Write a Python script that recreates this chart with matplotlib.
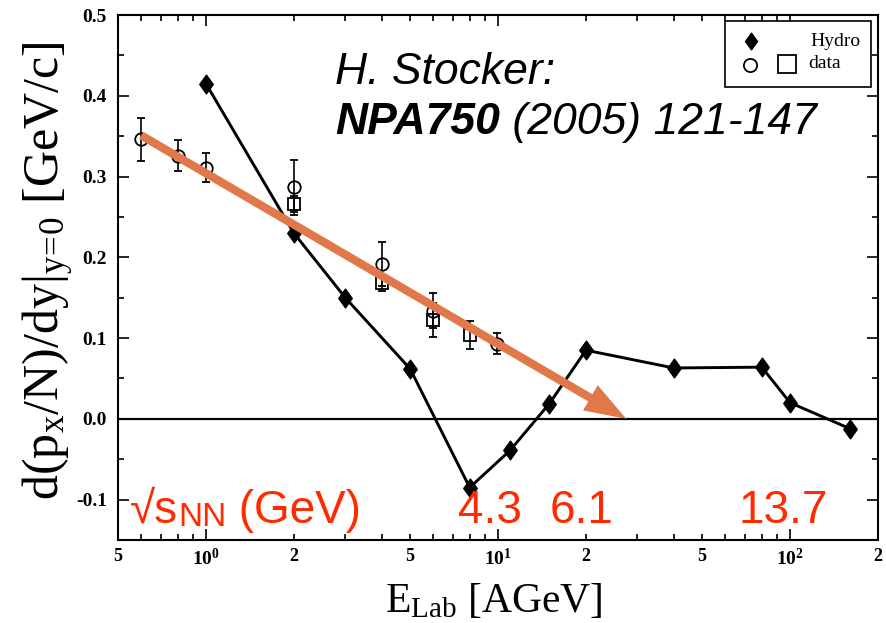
import matplotlib
matplotlib.use("Agg")
import numpy as np
import matplotlib.pyplot as plt
from matplotlib.path import Path
from matplotlib.patches import Rectangle
from matplotlib.ticker import LogLocator, FuncFormatter, MultipleLocator, FormatStrFormatter

# ---- data -------------------------------------------------------------
hydro_e = [1, 2, 3, 5, 8, 11, 15, 20, 40, 80, 100, 160]
hydro_v = [0.415, 0.230, 0.150, 0.062, -0.085, -0.039, 0.019, 0.085, 0.063, 0.064, 0.020, -0.012]

circ_e = [0.6, 0.8, 1.0, 2.0, 4.0, 6.0, 9.9]
circ_v = [0.346, 0.326, 0.311, 0.287, 0.192, 0.134, 0.093]
circ_err = [0.027, 0.019, 0.018, 0.034, 0.027, 0.022, 0.013]

sq_e = [2.0, 4.0, 6.0, 8.0]
sq_v = [0.266, 0.168, 0.122, 0.104]
sq_err = [0.010, 0.010, 0.021, 0.017]

arrow_tail = (0.6, 0.351)
arrow_tip = (27.5, 0.0)

sqrt_s_labels = ["4.3", "6.1", "13.7"]

# ---- style ------------------------------------------------------------
plt.rcParams["font.family"] = ["Liberation Serif", "DejaVu Serif"]
plt.rcParams["mathtext.fontset"] = "custom"
plt.rcParams["mathtext.rm"] = "Liberation Serif"
plt.rcParams["mathtext.it"] = "Liberation Serif:italic"
plt.rcParams["mathtext.bf"] = "Liberation Serif:bold"

ORANGE = "#E0784A"
RED = "#FF2A00"
SANS = ["Liberation Sans", "DejaVu Sans"]

fig = plt.figure(figsize=(8.86, 6.23), dpi=100)
ax = fig.add_axes([0.1332, 0.1332, 0.8578, 0.8427])
ax.set_xscale("log")
ax.set_xlim(0.5, 200)
ax.set_ylim(-0.15, 0.5)

diamond = Path([(0, 1), (0.72, 0), (0, -1), (-0.72, 0), (0, 1)],
               [Path.MOVETO, Path.LINETO, Path.LINETO, Path.LINETO, Path.CLOSEPOLY])

ax.axhline(0, color="black", lw=1.6, zorder=2)

ax.errorbar(circ_e, circ_v, yerr=circ_err, fmt="o", ms=9, mfc="none", mec="black",
            mew=1.3, ecolor="black", elinewidth=1.2, capsize=3, capthick=1.2, zorder=3)
ax.errorbar(sq_e, sq_v, yerr=sq_err, fmt="s", ms=9, mfc="none", mec="black",
            mew=1.3, ecolor="black", elinewidth=1.2, capsize=3, capthick=1.2, zorder=3)
ax.plot(hydro_e, hydro_v, color="black", lw=2.1, marker=diamond, ms=13.5, zorder=4)

ax.annotate("", xy=arrow_tip, xytext=arrow_tail,
            arrowprops=dict(arrowstyle="simple,head_length=3.0,head_width=2.1,tail_width=0.6",
                            mutation_scale=10, color=ORANGE, lw=0, shrinkA=0, shrinkB=0),
            zorder=5)

# ---- axes ticks -------------------------------------------------------
def minor_label(v, pos):
    m = int(round(v / 10 ** np.floor(np.log10(v) + 1e-9)))
    return str(m) if m in (2, 5) else ""

ax.xaxis.set_major_locator(LogLocator(base=10, numticks=10))
ax.xaxis.set_minor_locator(LogLocator(base=10, subs=np.arange(2, 10), numticks=20))
ax.xaxis.set_major_formatter(FuncFormatter(lambda v, p: r"$\mathbf{10^{%d}}$" % round(np.log10(v))))
ax.xaxis.set_minor_formatter(FuncFormatter(minor_label))
ax.yaxis.set_major_locator(MultipleLocator(0.1))
ax.yaxis.set_minor_locator(MultipleLocator(0.05))
ax.yaxis.set_major_formatter(FormatStrFormatter("%.1f"))

ax.tick_params(which="both", direction="in", top=True, right=True, width=1.2)
ax.tick_params(which="major", length=8)
ax.tick_params(which="minor", length=4)
ax.tick_params(axis="x", which="both", pad=6)
ax.tick_params(axis="y", which="both", pad=8)
for lab in ax.get_xticklabels(which="both") + ax.get_yticklabels():
    lab.set_fontsize(13)
    lab.set_fontweight("bold")
for lab in ax.get_xticklabels() + ax.get_yticklabels():
    lab.set_fontsize(14)
for s in ax.spines.values():
    s.set_linewidth(1.5)

ax.set_xlabel(r"E$_{\rm Lab}$ [AGeV]", fontsize=30)
ax.xaxis.set_label_coords(0.495, -0.08)
ax.set_ylabel(r"d(p$_{\rm x}$/N)/dy|$_{\rm y\!=\!0}$ [GeV/c]", fontsize=36, va="center")
ax.yaxis.set_label_coords(-0.091, 0.514)

# ---- legend box -------------------------------------------------------
ax.add_patch(Rectangle((0.799, 0.863), 0.192, 0.1256, transform=ax.transAxes,
                       fc="white", ec="black", lw=1.2, zorder=6))
ax.plot([0.833], [0.9505], marker=diamond, ms=12, color="black",
        transform=ax.transAxes, clip_on=False, zorder=7)
ax.plot([0.8316], [0.9048], marker="o", ms=9.5, mfc="white", mec="black", mew=1.3,
        transform=ax.transAxes, clip_on=False, zorder=7)
ax.plot([0.880], [0.9067], marker="s", ms=13, mfc="white", mec="black", mew=1.3,
        transform=ax.transAxes, clip_on=False, zorder=7)
ax.text(0.9105, 0.9505, "Hydro", transform=ax.transAxes, va="center", ha="left",
        fontsize=14, zorder=7)
ax.text(0.908, 0.9067, "data", transform=ax.transAxes, va="center", ha="left",
        fontsize=14, zorder=7)

# ---- annotations ------------------------------------------------------
renderer = fig.canvas.get_renderer()

def text_run(x, y, parts):
    """Draw consecutive pieces of text on one baseline (figure coords)."""
    for s, kw, dy in parts:
        t = fig.text(x, y + dy, s, va="baseline", ha="left", **kw)
        bb = t.get_window_extent(renderer)
        x = fig.transFigure.inverted().transform((bb.x1, bb.y0))[0]

ref_kw = dict(fontfamily=SANS, fontstyle="italic", fontsize=32, color="black")
fig.text(335 / 886, 1 - 84 / 623, "H. Stocker:", **ref_kw)
text_run(335 / 886, 1 - 134 / 623, [
    ("NPA750", dict(ref_kw, fontweight="bold"), 0),
    (" (2005) 121-147", ref_kw, 0),
])

red_kw = dict(fontfamily=SANS, fontsize=33, color=RED, zorder=8)
text_run(130 / 886, 1 - 523 / 623, [
    ("\u221As", red_kw, 0),
    ("NN", dict(red_kw, fontsize=24), -3 / 623),
    (" (GeV)", red_kw, 0),
])
for s, xpx in zip(sqrt_s_labels, [458, 550, 738]):
    fig.text(xpx / 886, 1 - 523 / 623, s, va="baseline", ha="left", **red_kw)

fig.savefig("out.png", dpi=100)
